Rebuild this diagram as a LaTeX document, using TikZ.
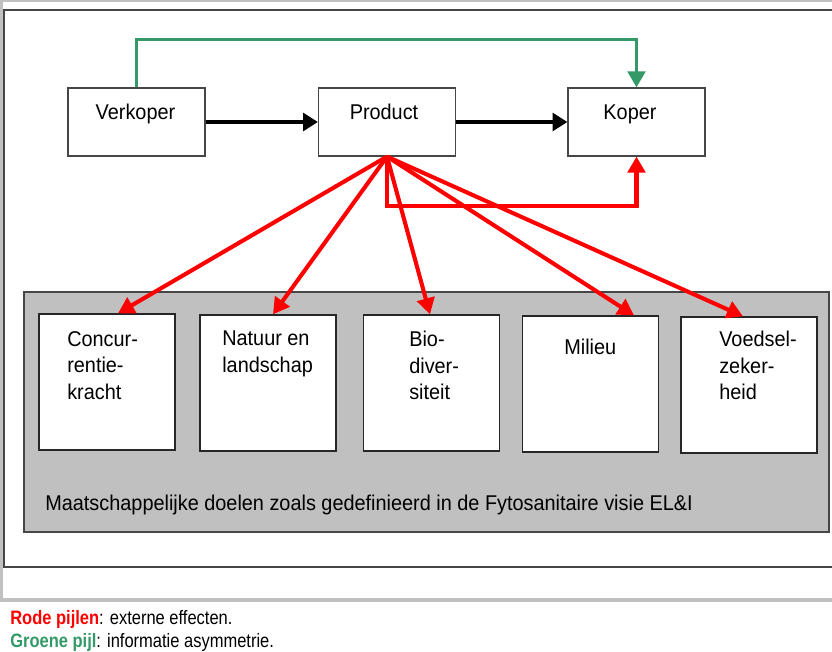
\documentclass[tikz,border=0pt]{standalone}
\usepackage{fontspec}
\setmainfont{Liberation Sans}[FakeStretch=0.93]
\newfontfamily\notefont{Liberation Sans}[FakeStretch=0.85]
\usetikzlibrary{arrows.meta,calc}
\definecolor{rood}{RGB}{255,0,0}
\definecolor{groen}{RGB}{51,153,102}
\definecolor{grijs}{RGB}{192,192,192}
\definecolor{rand}{RGB}{70,70,70}

\begin{document}
\begin{tikzpicture}[x=0.025cm,y=-0.025cm]
    \useasboundingbox (0,0) rectangle (832,651);
    \fill[grijs] (0,0) rectangle (832,602);
    \fill[white] (3,2) rectangle (832,598);
    \draw[rand, line width=0.8pt] (832,10) -- (4,10) -- (4,567) -- (832,567);

    \tikzset{BoxStyle/.style={draw=rand, line width=0.8pt, fill=white, minimum width=3.425cm, minimum height=1.7cm, inner sep=0pt}}
    \tikzset{TextStyle/.style={inner sep=0pt, font=\fontsize{15.2}{18.8}\selectfont}}
    \node[BoxStyle] (verkoper) at (136.5,122) {};
    \node[BoxStyle] (product)  at (387,122)   {};
    \node[BoxStyle] (koper)    at (636.5,122) {};
    \node[TextStyle, anchor=base] (verkoper-t) at (135.5,119) {Verkoper};
    \node[TextStyle, anchor=base] (product-t)  at (384,119)   {Product};
    \node[TextStyle, anchor=base] (koper-t)    at (630,119)   {Koper};

    \draw[rand, line width=0.8pt, fill=grijs] (24,292) rectangle (829,532);
    \node[TextStyle, anchor=base west] (doelen-t) at (45,510) {Maatschappelijke doelen zoals gedefinieerd in de Fytosanitaire visie EL\&I};

    \tikzset{BoxStyle/.append style={draw=black!85, line width=0.9pt, minimum width=3.4cm, minimum height=3.4cm}}
    \tikzset{TextStyle/.append style={anchor=north west, align=left}}
    \node[BoxStyle] (concurrentie) at (107,382)   {};
    \node[BoxStyle] (natuur)       at (268,383)   {};
    \node[BoxStyle] (biodiv)       at (431.5,383) {};
    \node[BoxStyle] (milieu)       at (590.5,384) {};
    \node[BoxStyle] (voedsel)      at (749,385)   {};
    \node[TextStyle] (concurrentie-t) at (67,331)  {Concur-\\rentie-\\kracht};
    \node[TextStyle] (natuur-t)       at (222,331) {Natuur en\\landschap};
    \node[TextStyle] (biodiv-t)       at (409,331) {Bio-\\diver-\\siteit};
    \node[TextStyle] (milieu-t)       at (564,339) {Milieu};
    \node[TextStyle] (voedsel-t)      at (719,331) {Voedsel-\\zeker-\\heid};

    \tikzset{EdgeStyle/.style={line width=2.8pt, -{Triangle[length=10.5pt, width=12.5pt]}}}
    \draw[EdgeStyle] (verkoper) -- (product);
    \draw[EdgeStyle] (product) -- (koper);

    \tikzset{EdgeStyle/.append style={groen, line width=2.7pt, -{Triangle[length=11.5pt, width=12.5pt]}}}
    \draw[EdgeStyle] (verkoper.north) -- ($(verkoper.north)+(0,-48)$) -| (koper.north);

    \tikzset{EdgeStyle/.append style={rood, line width=2.9pt}}
    \draw[EdgeStyle] (product.south) -- ($(product.south)+(0,49)$) -| (koper.south);
    \draw[EdgeStyle] (product.south) -- ($(concurrentie.north)+(11,0)$);
    \draw[EdgeStyle] (product.south) -- ($(natuur.north)+(5,0)$);
    \draw[EdgeStyle] (product.south) -- ($(biodiv.north)+(-1.5,0)$);
    \draw[EdgeStyle] (product.south) -- ($(milieu.north)+(43.5,0)$);
    \draw[EdgeStyle] (product.south) -- ($(voedsel.north)+(-6,0)$);

    \node[anchor=base west, inner sep=0pt, font=\notefont\fontsize{13.8}{16}\selectfont] (noot-rood) at (10,624) {\textcolor{rood}{\textbf{Rode pijlen}}: externe effecten.};
    \node[anchor=base west, inner sep=0pt, font=\notefont\fontsize{13.8}{16}\selectfont] (noot-groen) at (10,647) {\textcolor{groen}{\textbf{Groene pijl}}: informatie asymmetrie.};
\end{tikzpicture}
\end{document}
